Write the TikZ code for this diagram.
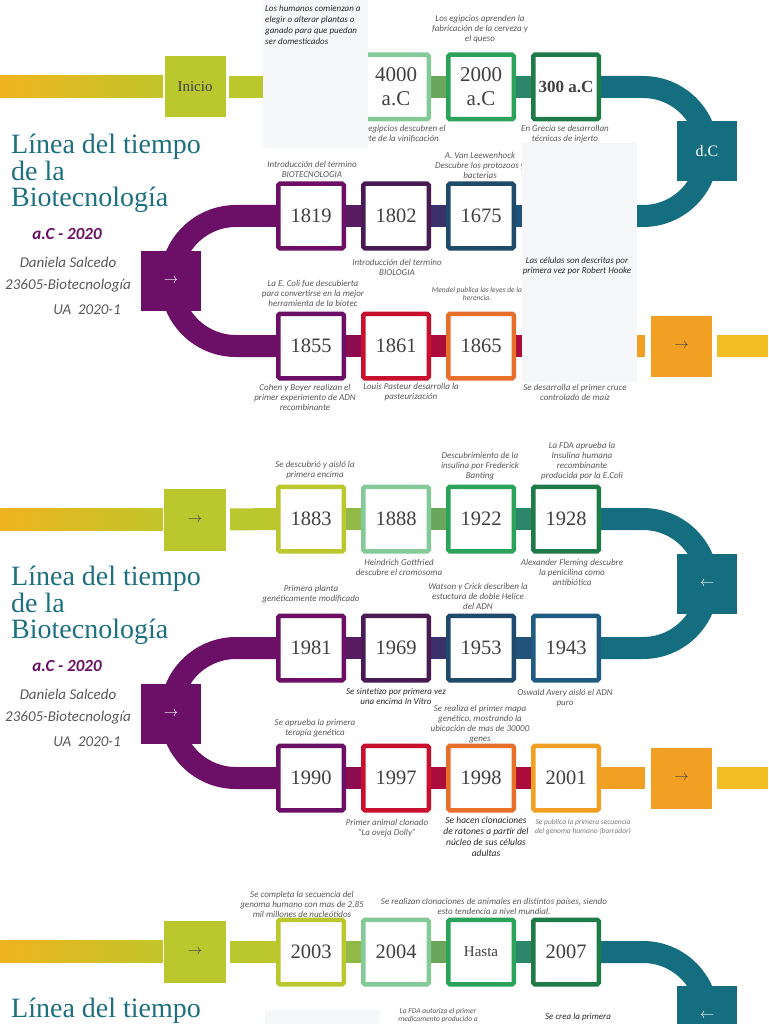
\documentclass[tikz,border=0pt]{standalone}
\usepackage{fontspec}
\setmainfont{Liberation Serif}
\setsansfont{Carlito}
\usetikzlibrary{arrows.meta}
\pgfdeclarelayer{bands}
\pgfsetlayers{bands,main}
\definecolor{ygreen}{RGB}{186,200,46}
\definecolor{lgreen}{RGB}{132,201,152}
\definecolor{mgreen}{RGB}{44,163,90}
\definecolor{dgreen}{RGB}{30,122,70}
\definecolor{deepteal}{RGB}{21,110,127}
\definecolor{plum}{RGB}{108,15,102}
\definecolor{dplum}{RGB}{74,26,83}
\definecolor{inkblue}{RGB}{30,74,107}
\definecolor{steelblue}{RGB}{30,92,130}
\definecolor{crimson}{RGB}{200,16,46}
\definecolor{tangerine}{RGB}{232,112,42}
\definecolor{amber}{RGB}{242,160,36}
\definecolor{golden}{RGB}{241,190,36}
\definecolor{goldleft}{RGB}{239,180,30}
\definecolor{oliveband}{RGB}{145,185,70}
\definecolor{sageband}{RGB}{104,166,90}
\definecolor{seaband}{RGB}{44,134,105}
\definecolor{plumband}{RGB}{90,28,96}
\definecolor{indigoband}{RGB}{60,48,108}
\definecolor{blueband}{RGB}{34,82,122}
\definecolor{wineband}{RGB}{140,12,78}
\definecolor{rubyband}{RGB}{172,12,58}
\definecolor{notegray}{RGB}{88,88,88}
\definecolor{notedark}{RGB}{40,40,40}
\definecolor{yeargray}{RGB}{64,64,64}
\definecolor{titleteal}{RGB}{30,112,128}
\definecolor{veil}{RGB}{246,247,249}
\newcommand{\notefont}{\sffamily\itshape\fontsize{9}{10}\selectfont}
\newcommand{\tinynote}{\sffamily\itshape\fontsize{7.5}{8.5}\selectfont}
\newcommand{\yearfont}{\fontsize{20.5}{24}\selectfont}
\tikzset{
  yearbox/.style={draw=#1, fill=white, line width=4.5pt, minimum width=65.5pt,
    minimum height=64.5pt, inner sep=0pt, rounded corners=1.5pt, align=center,
    text=yeargray, font=\yearfont},
  tagbox/.style={fill=#1, minimum size=61pt, inner sep=0pt, font=\fontsize{14}{14}\selectfont},
  band/.style={draw=#1, line width=22pt},
  note/.style={font=\notefont, text=notegray, align=center, inner sep=0pt},
  darknote/.style={note, text=notedark},
  titletext/.style={font=\fontsize{28}{26.5}\selectfont, text=titleteal, align=left,
    anchor=north west, inner sep=0pt},
  byline/.style={font=\sffamily\itshape\fontsize{15}{15}\selectfont, text=notegray, inner sep=0pt},
}

\begin{document}
\begin{tikzpicture}[x=1pt, y=-1pt, >=Stealth]
  \useasboundingbox (0,0) rectangle (768,1024);
  \clip (0,0) rectangle (768,1024);

  % ---------------- first sheet ----------------
  \node[titletext] (title1) at (11,134) {Línea del tiempo\\de la\\Biotecnología};
  \node[font=\sffamily\itshape\bfseries\fontsize{17}{17}\selectfont, text=plum] (span1) at (67,234) {a.C - 2020};
  \node[byline] (who1) at (68,262) {Daniela Salcedo};
  \node[byline] (code1) at (68,286) {23605-Biotecnología};
  \node[byline] (term1) at (87,310) {UA\ \ 2020-1};

  % top row
  \node[tagbox=ygreen, text=yeargray, font=\fontsize{15}{15}\selectfont] (inicio) at (195,87) {Inicio};
  \node[yearbox=lgreen, font=\fontsize{21}{24}\selectfont] (y4000) at (396,87) {4000\\a.C};
  \node[yearbox=mgreen, font=\fontsize{21}{24}\selectfont] (y2000) at (481,87) {2000\\a.C};
  \node[yearbox=dgreen, font=\bfseries\fontsize{17}{20}\selectfont] (y300) at (566,87) {300 a.C};
  \node[tagbox=deepteal, minimum size=60pt, text=white, font=\fontsize{16}{16}\selectfont] (dc) at (707,151.5) {d.C};
  % middle row
  \node[yearbox=plum] (y1819) at (311,216) {1819};
  \node[yearbox=dplum] (y1802) at (396,216) {1802};
  \node[yearbox=inkblue] (y1675) at (481,216) {1675};
  \node[tagbox=plum, minimum size=60pt, text=white] (go1) at (171,281) {$\rightarrow$};
  % bottom row
  \node[yearbox=plum] (y1855) at (311,346) {1855};
  \node[yearbox=crimson] (y1861) at (396,346) {1861};
  \node[yearbox=tangerine] (y1865) at (481,346) {1865};
  \node[tagbox=amber, text=yeargray] (go2) at (681.5,346) {$\rightarrow$};

  \coordinate (turn1) at (643,87);
  \coordinate (hid1) at (580,216);
  \coordinate (turn2) at (236,216);
  \coordinate (hid2) at (580,346);
  \coordinate (end2) at (768,346);

  \begin{pgfonlayer}{bands}
    \shade[left color=goldleft, right color=ygreen!85!goldleft] (0,76) rectangle (163,98);
    \draw[band=ygreen, shorten <=3pt] (inicio) -- (y4000);
    \draw[band=sageband] (y4000) -- (y2000);
    \draw[band=seaband] (y2000) -- (y300);
    \draw[band=deepteal] (y300) -- (turn1) arc[start angle=90, end angle=-90, radius=64.5pt] -- (hid1);
    \draw[band=blueband] (y1675) -- (hid1);
    \draw[band=indigoband] (y1802) -- (y1675);
    \draw[band=plumband] (y1819) -- (y1802);
    \draw[band=plum] (y1819) -- (turn2) arc[start angle=90, end angle=270, radius=65pt] -- (y1855);
    \draw[band=wineband] (y1855) -- (y1861);
    \draw[band=rubyband] (y1861) -- (y1865);
    \draw[band=rubyband] (y1865) -- (hid2);
    \draw[band=amber, shorten >=6pt] (hid2) -- (go2);
    \draw[band=golden, shorten <=5pt] (go2) -- (end2);
  \end{pgfonlayer}

  % notes
  \node[note] (n2) at (480,29) {Los egipcios aprenden la\\fabricación de la cerveza y\\el queso};
  \node[note] (n3) at (400,134) {Los egipcios descubren el\\arte de la vinificación};
  \node[note] (n4) at (565,134) {En Grecia se desarrollan\\técnicas de injerto};
  \node[note] (n5) at (312,169) {Introducción del termino\\BIOTECNOLOGIA};
  \node[note] (n6) at (480,165) {A. Van Leewenhock\\Descubre los protozoos y\\bacterias};
  \node[note] (n7) at (397,267) {Introducción del termino\\BIOLOGIA};
  \node[note] (n9) at (313,293) {La E. Coli fue descubierta\\para convertirse en la mejor\\herramienta de la biotec};
  \node[note, font=\tinynote] (n10) at (477,294) {Mendel publica las leyes de la\\herencia.};
  \node[note] (n11) at (305,397) {Cohen y Boyer realizan el\\primer experimento de ADN\\recombinante};
  \node[note] (n12) at (411,392) {Louis Pasteur desarrolla la\\pasteurización};
  \node[note] (n13) at (575,392) {Se desarrolla el primer cruce\\controlado de maíz};

  % pale sheets on top
  \fill[veil] (263,0) rectangle (368,148);
  \fill[veil] (522,143) rectangle (637,382);
  \node[darknote, align=left, anchor=north west, font=\sffamily\itshape\fontsize{9}{11}\selectfont] (n1) at (265,5)
    {Los humanos comienzan a\\elegir o alterar plantas o\\ganado para que puedan\\ser domesticados};
  \node[darknote] (n8) at (577,266) {Las células son descritas por\\primera vez por Robert Hooke};

  % ---------------- second sheet ----------------
  \node[titletext] (title2) at (11,566) {Línea del tiempo\\de la\\Biotecnología};
  \node[font=\sffamily\itshape\bfseries\fontsize{17}{17}\selectfont, text=plum] (span2) at (67,666) {a.C - 2020};
  \node[byline] (who2) at (68,694) {Daniela Salcedo};
  \node[byline] (code2) at (68,718) {23605-Biotecnología};
  \node[byline] (term2) at (87,742) {UA\ \ 2020-1};

  \node[tagbox=ygreen, minimum size=62pt, text=yeargray] (go3) at (195,519.5) {$\rightarrow$};
  \node[yearbox=ygreen] (y1883) at (311,519) {1883};
  \node[yearbox=lgreen] (y1888) at (396,519) {1888};
  \node[yearbox=mgreen] (y1922) at (481,519) {1922};
  \node[yearbox=dgreen] (y1928) at (566,519) {1928};
  \node[tagbox=deepteal, minimum size=60pt, text=white] (back1) at (707,583.5) {$\leftarrow$};
  \node[yearbox=plum] (y1981) at (311,648) {1981};
  \node[yearbox=dplum] (y1969) at (396,648) {1969};
  \node[yearbox=inkblue] (y1953) at (481,648) {1953};
  \node[yearbox=steelblue] (y1943) at (566,648) {1943};
  \node[tagbox=plum, minimum size=60pt, text=white] (go4) at (171,713.5) {$\rightarrow$};
  \node[yearbox=plum] (y1990) at (311,778) {1990};
  \node[yearbox=crimson] (y1997) at (396,778) {1997};
  \node[yearbox=tangerine] (y1998) at (481,778) {1998};
  \node[yearbox=amber] (y2001) at (566,778) {2001};
  \node[tagbox=amber, text=yeargray] (go5) at (681.5,778) {$\rightarrow$};

  \coordinate (turn3) at (643,519);
  \coordinate (turn4) at (236,648);
  \coordinate (end4) at (768,778);

  \begin{pgfonlayer}{bands}
    \shade[left color=goldleft, right color=ygreen!85!goldleft] (0,508) rectangle (163,530);
    \draw[band=ygreen, shorten <=4pt] (go3) -- (y1883);
    \draw[band=oliveband] (y1883) -- (y1888);
    \draw[band=sageband] (y1888) -- (y1922);
    \draw[band=seaband] (y1922) -- (y1928);
    \draw[band=deepteal] (y1928) -- (turn3) arc[start angle=90, end angle=-90, radius=64.5pt] -- (y1943);
    \draw[band=blueband] (y1943) -- (y1953);
    \draw[band=indigoband] (y1953) -- (y1969);
    \draw[band=plumband] (y1969) -- (y1981);
    \draw[band=plum] (y1981) -- (turn4) arc[start angle=90, end angle=270, radius=65pt] -- (y1990);
    \draw[band=wineband] (y1990) -- (y1997);
    \draw[band=rubyband] (y1997) -- (y1998);
    \draw[band=rubyband] (y1998) -- (y2001);
    \draw[band=amber, shorten >=6pt] (y2001) -- (go5);
    \draw[band=golden, shorten <=5pt] (go5) -- (end4);
  \end{pgfonlayer}

  \node[note] (m1) at (315,470) {Se descubrió y aisló la\\primera encima};
  \node[note] (m2) at (480,466) {Descubrimiento de la\\insulina por Frederick\\Banting};
  \node[note] (m3) at (582,461) {La FDA aprueba la\\Insulina humana\\recombinante\\producida por la E.Coli};
  \node[note] (m4) at (399,567) {Heindrich Gottfried\\descubre el cromosoma};
  \node[note] (m5) at (572,572) {Alexander Fleming descubre\\la penicilina como\\antibiótica};
  \node[note] (m6) at (311,594) {Primera planta\\genéticamente modificado};
  \node[note] (m7) at (478,596) {Watson y Crick describen la\\estuctura de doble Helice\\del ADN};
  \node[darknote] (m8) at (396,696) {Se sintetizo por primera vez\\una encima In Vitro};
  \node[note] (m9) at (565,698) {Oswald Avery aisló el ADN\\puro};
  \node[note] (m10) at (315,728) {Se aprueba la primera\\terapia genética};
  \node[note] (m11) at (480,724) {Se realiza el primer mapa\\genético, mostrando la\\ubicación de mas de 30000\\genes};
  \node[note] (m12) at (387,828) {Primer animal clonado\\``La oveja Dolly''};
  \node[darknote, font=\sffamily\itshape\fontsize{9.5}{11}\selectfont] (m13) at (486,837) {Se hacen clonaciones\\de ratones a partir del\\núcleo de sus células\\adultas};
  \node[note, font=\tinynote, text=notegray!80] (m14) at (583,827) {Se publica la primera secuencia\\del genoma humano (borrador)};

  % ---------------- third sheet ----------------
  \node[titletext] (title3) at (11,998) {Línea del tiempo};
  \node[tagbox=ygreen, minimum size=62pt, text=yeargray] (go6) at (195,952) {$\rightarrow$};
  \node[yearbox=ygreen] (y2003) at (311,952) {2003};
  \node[yearbox=lgreen] (y2004) at (396,952) {2004};
  \node[yearbox=mgreen, font=\fontsize{15}{15}\selectfont] (hasta) at (481,952) {Hasta};
  \node[yearbox=dgreen] (y2007) at (566,952) {2007};
  \node[tagbox=deepteal, minimum size=60pt, text=white] (back2) at (707,1016) {$\leftarrow$};

  \coordinate (turn5) at (643,952);
  \coordinate (hid5) at (600,1081);

  \begin{pgfonlayer}{bands}
    \shade[left color=goldleft, right color=ygreen!85!goldleft] (0,940) rectangle (163,962);
    \draw[band=ygreen, shorten <=4pt] (go6) -- (y2003);
    \draw[band=oliveband] (y2003) -- (y2004);
    \draw[band=sageband] (y2004) -- (hasta);
    \draw[band=seaband] (hasta) -- (y2007);
    \draw[band=deepteal] (y2007) -- (turn5) arc[start angle=90, end angle=-90, radius=64.5pt] -- (hid5);
  \end{pgfonlayer}

  \node[note] (p1) at (302,904) {Se completa la secuencia del\\genoma humano con mas de 2,85\\mil millones de nucleótidos};
  \node[note] (p2) at (494,906) {Se realizan clonaciones de animales en distintos países, siendo\\esto tendencia a nivel mundial.};
  \fill[veil] (265,1010) rectangle (380,1024);
  \node[note, font=\sffamily\itshape\fontsize{7.5}{8}\selectfont, anchor=north] (p3) at (438,1008) {La FDA autoriza el primer\\medicamento producido a};
  \node[darknote, anchor=north] (p4) at (578,1013) {Se crea la primera};
\end{tikzpicture}
\end{document}
